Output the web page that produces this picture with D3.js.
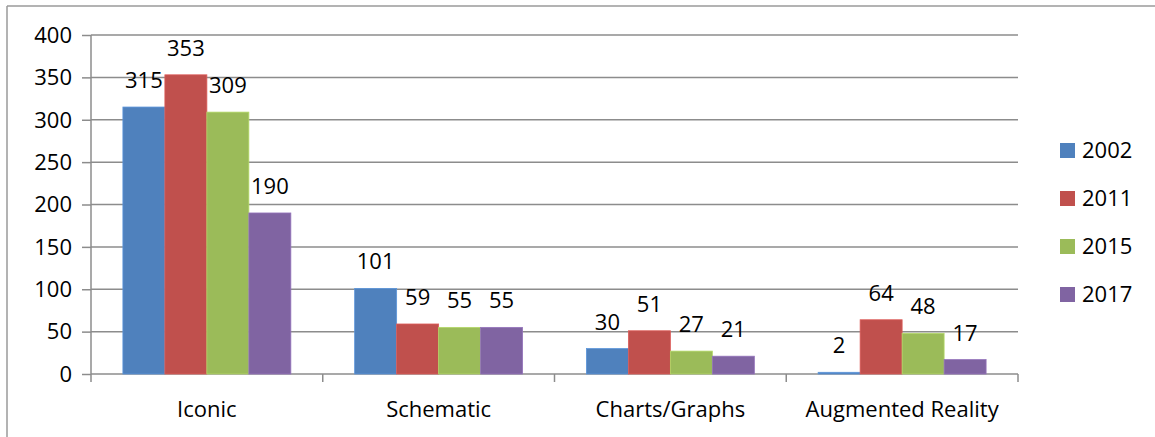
<!DOCTYPE html>
<html><head><meta charset="utf-8">
<script src="https://cdn.jsdelivr.net/npm/d3@7"></script>
<style>body{margin:0;background:#fff}svg{display:block}</style>
</head><body>
<svg id="c" width="1155" height="437"></svg>
<script>
const categories = ["Iconic", "Schematic", "Charts/Graphs", "Augmented Reality"];
const seriesNames = ["2002", "2011", "2015", "2017"];
const values2002 = [315, 101, 30, 2];
const values2011 = [353, 59, 51, 64];
const values2015 = [309, 55, 27, 48];
const values2017 = [190, 55, 21, 17];
const yTicks = [0, 50, 100, 150, 200, 250, 300, 350, 400];
const colors = ["#4F81BD", "#C0504D", "#9BBB59", "#8064A2"];

(function(){
const seriesValues = [values2002, values2011, values2015, values2017];
const svg = d3.select("#c");
const font = "'Open Sans', sans-serif";
const fs = 22;
const pLeft = 91, pRight = 1018, pTop = 35, pBottom = 374;

// frame
svg.append("line").attr("x1",7).attr("x2",1155).attr("y1",6).attr("y2",6).attr("stroke","#9a9a9a").attr("stroke-width",1.5);
svg.append("line").attr("x1",7).attr("x2",7).attr("y1",6).attr("y2",437).attr("stroke","#9a9a9a").attr("stroke-width",1.5);

const y = d3.scaleLinear().domain([0,400]).range([pBottom, pTop]);
const x0 = d3.scaleBand().domain(categories).range([pLeft, pRight]).paddingInner(0).paddingOuter(0);
const bw = x0.bandwidth();
const x1 = d3.scaleBand().domain(seriesNames).range([0, bw]).paddingInner(0).paddingOuter(0.76);

// gridlines
svg.append("g").selectAll("line").data(yTicks.filter(d=>d>0)).join("line")
  .attr("x1", pLeft).attr("x2", pRight).attr("y1", d=>y(d)).attr("y2", d=>y(d))
  .attr("stroke","#8c8c8c").attr("stroke-width",1.5);

// y axis
const yAxis = d3.axisLeft(y).tickValues(yTicks).tickSize(9).tickPadding(10).tickFormat(d3.format("d"));
const gy = svg.append("g").attr("transform",`translate(${pLeft},0)`).call(yAxis);
gy.selectAll("line, path").attr("stroke","#8c8c8c").attr("stroke-width",1.5);
gy.select(".domain").attr("d", `M0,${pTop}V${pBottom}`);
gy.selectAll("text").attr("font-family",font).attr("font-size",fs).attr("fill","#000").attr("dy","0.33em");

// x axis
const gx = svg.append("g").attr("transform",`translate(0,${pBottom})`);
gx.append("line").attr("x1",pLeft).attr("x2",pRight).attr("stroke","#8c8c8c").attr("stroke-width",1.5);
const bounds = categories.map(c=>x0(c)).concat([pRight]);
gx.selectAll("line.t").data(bounds).join("line").attr("class","t")
  .attr("x1",d=>d).attr("x2",d=>d).attr("y1",0).attr("y2",8).attr("stroke","#8c8c8c").attr("stroke-width",1.5);
gx.selectAll("text").data(categories).join("text")
  .attr("x", d=>x0(d)+bw/2).attr("y", 43).attr("text-anchor","middle")
  .attr("font-family",font).attr("font-size",fs).attr("fill","#000").text(d=>d);

// bars
seriesNames.forEach((s, si) => {
  const g = svg.append("g");
  g.selectAll("rect").data(seriesValues[si]).join("rect")
    .attr("x", (d,i)=>x0(categories[i]) + x1(s))
    .attr("y", d=>y(d))
    .attr("width", x1.bandwidth())
    .attr("height", d=>pBottom - y(d))
    .attr("fill", colors[si])
    .attr("stroke", d3.color(colors[si]).brighter(0.4))
    .attr("stroke-width", 0.8);
  g.selectAll("text").data(seriesValues[si]).join("text")
    .attr("x", (d,i)=>x0(categories[i]) + x1(s) + x1.bandwidth()/2)
    .attr("y", d=>y(d) - 19)
    .attr("text-anchor","middle")
    .attr("font-family",font).attr("font-size",fs).attr("fill","#000")
    .text(d=>d);
});

// legend
const lg = svg.append("g");
seriesNames.forEach((s, i) => {
  const yy = 143 + i*48;
  lg.append("rect").attr("x",1060).attr("y",yy).attr("width",15).attr("height",15).attr("fill",colors[i]);
  lg.append("text").attr("x",1082).attr("y",yy+15).attr("font-family",font).attr("font-size",fs).attr("fill","#000").text(s);
});
})();
</script>
</body></html>
